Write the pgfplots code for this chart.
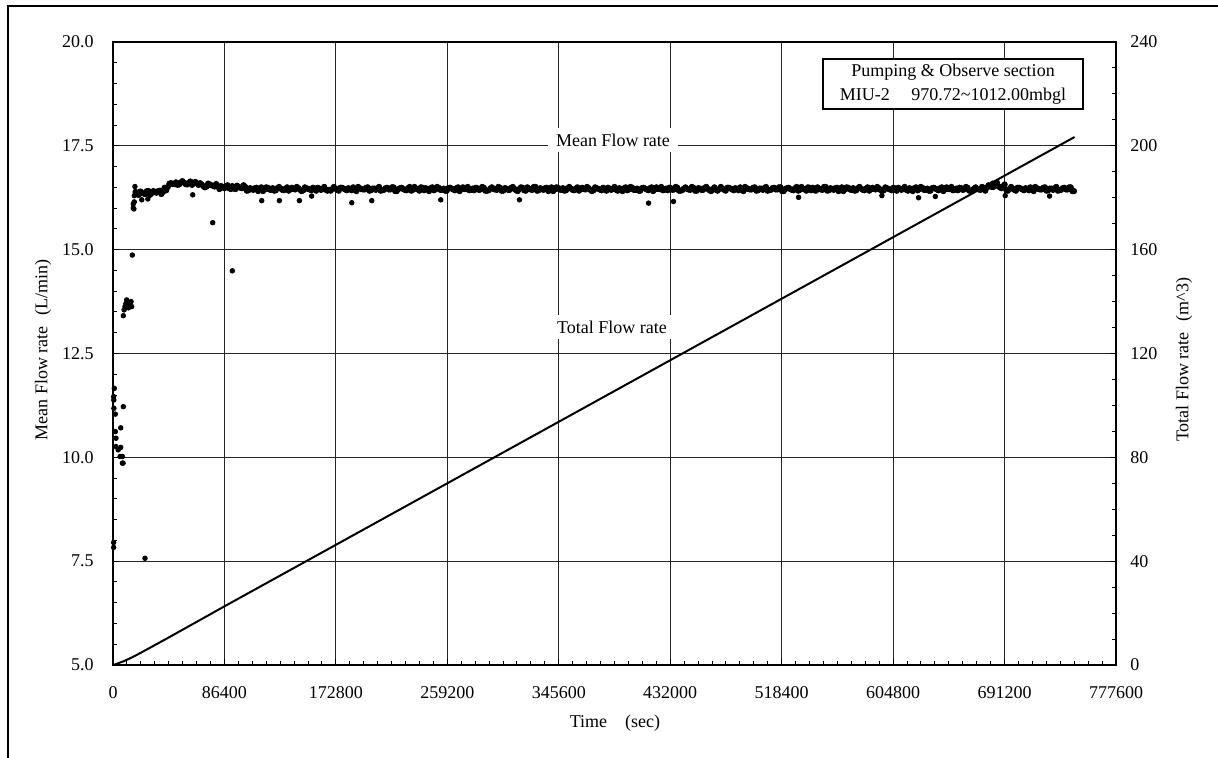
\documentclass[border=0pt]{standalone}
\usepackage{fontspec}
\setmainfont{Liberation Serif}
\usepackage{pgfplots}
\pgfplotsset{compat=1.18}
\begin{document}
\fontsize{9}{11}\selectfont
\begin{tikzpicture}
\path[use as bounding box] (-56.5pt,-46.5pt) rectangle (552.5pt,332.5pt);
\begin{axis}[
  scale only axis, width=501.5pt, height=311.5pt,
  xmin=0, xmax=777600, ymin=5, ymax=20,
  scaled x ticks=false, scaled y ticks=false,
  xtick={0,86400,172800,259200,345600,432000,518400,604800,691200,777600},
  xticklabels={0,86400,172800,259200,345600,432000,518400,604800,691200,777600},
  ytick={5,7.5,10,12.5,15,17.5,20},
  yticklabels={5.0,7.5,10.0,12.5,15.0,17.5,20.0},
  minor x tick num=7, minor y tick num=4,
  xtick pos=left, ytick pos=left, tick align=inside,
  major tick length=3pt, minor tick length=2.2pt,
  tick style={black, line width=0.5pt},
  grid=major, major grid style={black!85, line width=0.45pt},
  axis line style={line width=0.9pt},
  xticklabel style={yshift=-7.5pt},
  yticklabel style={xshift=-6.5pt},
  clip=false,
]
\addplot[only marks, mark=*, mark size=1.15pt, black] coordinates {
(500,11.46) (600,11.38) (700,11.18) (1000,11.66) (1800,11.04) (1800,10.62) (2300,10.46) (2300,10.26) (4000,10.18) (6000,10.24) (5500,10.02) (6000,10.71) (7300,10.02) (7300,9.86) (7800,9.86) (8000,11.22) (500,7.95) (500,7.83) (24800,7.57)
(8000,13.41) (8600,13.55) (9300,13.63) (10000,13.70) (10600,13.79) (11500,13.70) (12000,13.60) (13000,13.71) (14000,13.75) (14500,13.63) (15000,14.87) (15700,16.00) (15700,16.10) (16200,15.98) (16500,16.15) (17000,16.52) (16500,16.30)
(22300,16.20) (27000,16.22) (61800,16.32) (77300,15.65) (92500,14.49) (115300,16.18) (129000,16.18) (144500,16.18)
(154000,16.29) (185100,16.13) (200600,16.18) (254100,16.20) (315100,16.20) (415200,16.12) (434500,16.16)
(531500,16.26) (596100,16.30) (624500,16.25) (637500,16.28) (691700,16.30) (726100,16.29) (682000,16.60) (685500,16.62)
};
\addplot[only marks, mark=*, mark size=1.35pt, black] coordinates {
(17500,16.39) (20000,16.32) (22500,16.37) (25000,16.34) (27500,16.41) (30000,16.36) (32500,16.39) (35000,16.41) (37500,16.34) (40000,16.49)
(42500,16.51) (45000,16.60) (47500,16.58) (50000,16.56) (52500,16.62) (55000,16.61) (57500,16.57) (60000,16.64) (62500,16.59) (65000,16.60)
(67500,16.60) (70000,16.53) (72500,16.52) (75000,16.57) (77500,16.54) (80000,16.58) (82500,16.46) (85000,16.51) (87500,16.50) (90000,16.48)
(92500,16.53) (95000,16.46) (97500,16.51) (100000,16.48)
(102500,16.51) (105000,16.43) (107500,16.46) (110000,16.48) (112500,16.41) (115000,16.50) (117500,16.45) (120000,16.49) (122500,16.44) (125000,16.42)
(127500,16.48) (130000,16.47) (132500,16.43) (135000,16.50) (137500,16.45) (140000,16.46) (142500,16.51) (145000,16.44) (147500,16.43) (150000,16.48)
(152500,16.45) (155000,16.49) (157500,16.42) (160000,16.47) (162500,16.46) (165000,16.44)
(167500,16.44) (170000,16.46) (172500,16.47) (175000,16.42) (177500,16.49) (180000,16.45) (182500,16.48) (185000,16.43) (187500,16.44) (190000,16.51)
(192500,16.46) (195000,16.45) (197500,16.50) (200000,16.43) (202500,16.47) (205000,16.48) (207500,16.42) (210000,16.44) (212500,16.49) (215000,16.45)
(217500,16.50) (220000,16.41) (222500,16.48) (225000,16.46) (227500,16.43) (230000,16.51) (232500,16.44) (235000,16.47) (237500,16.42) (240000,16.49)
(242500,16.48) (245000,16.41) (247500,16.50) (250000,16.45) (252500,16.49) (255000,16.44) (257500,16.42) (260000,16.48) (262500,16.47) (265000,16.43)
(267500,16.50) (270000,16.45) (272500,16.46) (275000,16.51) (277500,16.44) (280000,16.43) (282500,16.48) (285000,16.45) (287500,16.49) (290000,16.42)
(292500,16.47) (295000,16.46) (297500,16.44) (300000,16.49) (302500,16.42) (305000,16.47) (307500,16.44) (310000,16.51) (312500,16.43) (315000,16.46)
(317500,16.49) (320000,16.42) (322500,16.47) (325000,16.44) (327500,16.51) (330000,16.43) (332500,16.46) (335000,16.48) (337500,16.41) (340000,16.50)
(342500,16.45) (345000,16.49) (347500,16.44) (350000,16.42) (352500,16.48) (355000,16.47) (357500,16.43) (360000,16.50) (362500,16.45) (365000,16.46)
(367500,16.51) (370000,16.44) (372500,16.43) (375000,16.48) (377500,16.45) (380000,16.49) (382500,16.42) (385000,16.47) (387500,16.46) (390000,16.44)
(392500,16.48) (395000,16.41) (397500,16.50) (400000,16.45) (402500,16.49) (405000,16.44) (407500,16.42) (410000,16.48) (412500,16.47) (415000,16.43)
(417500,16.50) (420000,16.45) (422500,16.46) (425000,16.51) (427500,16.44) (430000,16.43) (432500,16.48) (435000,16.45) (437500,16.49) (440000,16.42)
(442500,16.47) (445000,16.46) (447500,16.44) (450000,16.49) (452500,16.42) (455000,16.47) (457500,16.44) (460000,16.51) (462500,16.43) (465000,16.46)
(467500,16.44) (470000,16.46) (472500,16.47) (475000,16.42) (477500,16.49) (480000,16.45) (482500,16.48) (485000,16.43) (487500,16.44) (490000,16.51)
(492500,16.46) (495000,16.45) (497500,16.50) (500000,16.43) (502500,16.47) (505000,16.48) (507500,16.42) (510000,16.44) (512500,16.49) (515000,16.45)
(517500,16.50) (520000,16.41) (522500,16.48) (525000,16.46) (527500,16.43) (530000,16.51) (532500,16.44) (535000,16.47) (537500,16.42) (540000,16.49)
(542500,16.49) (545000,16.42) (547500,16.47) (550000,16.44) (552500,16.51) (555000,16.43) (557500,16.46) (560000,16.48) (562500,16.41) (565000,16.50)
(567500,16.45) (570000,16.49) (572500,16.44) (575000,16.42) (577500,16.48) (580000,16.47) (582500,16.43) (585000,16.50) (587500,16.45) (590000,16.46)
(592500,16.51) (595000,16.44) (597500,16.43) (600000,16.48) (602500,16.45) (605000,16.49) (607500,16.42) (610000,16.47) (612500,16.46) (615000,16.44)
(617500,16.48) (620000,16.41) (622500,16.50) (625000,16.45) (627500,16.49) (630000,16.44) (632500,16.42) (635000,16.48) (637500,16.47) (640000,16.43)
(642500,16.50) (645000,16.45) (647500,16.46) (650000,16.51) (652500,16.44) (655000,16.43) (657500,16.48) (660000,16.45) (662500,16.49) (665000,16.42)
(667500,16.47) (670000,16.46) (672500,16.44) (675000,16.49) (677500,16.49) (680000,16.54) (682500,16.51) (685000,16.58) (687500,16.50) (690000,16.53)
(692500,16.44) (695000,16.46) (697500,16.47) (700000,16.42) (702500,16.49) (705000,16.45) (707500,16.48) (710000,16.43) (712500,16.44) (715000,16.51)
(717500,16.46) (720000,16.45) (722500,16.50) (725000,16.43) (727500,16.47) (730000,16.48) (732500,16.42) (735000,16.44) (737500,16.49) (740000,16.45)
(742500,16.50) (745000,16.41)
};
\addplot[only marks, mark=*, mark size=1.35pt, black] coordinates {
(18750,16.33) (21250,16.40) (23750,16.35) (26250,16.41) (28750,16.32) (31250,16.41) (33750,16.37) (36250,16.42) (38750,16.39) (41250,16.43)
(43750,16.59) (46250,16.58) (48750,16.62) (51250,16.57) (53750,16.65) (56250,16.58) (58750,16.61) (61250,16.56) (63750,16.63) (66250,16.56)
(68750,16.57) (71250,16.50) (73750,16.59) (76250,16.55) (78750,16.52) (81250,16.53) (83750,16.53) (86250,16.48) (88750,16.55) (91250,16.46)
(93750,16.47) (96250,16.54) (98750,16.49) (101250,16.55)
(103750,16.42) (106250,16.48) (108750,16.44) (111250,16.49) (113750,16.46) (116250,16.41) (118750,16.50) (121250,16.45) (123750,16.48) (126250,16.43)
(128750,16.51) (131250,16.44) (133750,16.47) (136250,16.42) (138750,16.49) (141250,16.45) (143750,16.48) (146250,16.41) (148750,16.50) (151250,16.46)
(153750,16.43) (156250,16.47) (158750,16.49) (161250,16.44) (163750,16.51) (166250,16.42)
(168750,16.42) (171250,16.51) (173750,16.44) (176250,16.49) (178750,16.47) (181250,16.43) (183750,16.46) (186250,16.50) (188750,16.41) (191250,16.48)
(193750,16.45) (196250,16.49) (198750,16.42) (201250,16.47) (203750,16.44) (206250,16.51) (208750,16.43) (211250,16.48) (213750,16.45) (216250,16.50)
(218750,16.41) (221250,16.46) (223750,16.49) (226250,16.44) (228750,16.48) (231250,16.42) (233750,16.51) (236250,16.45) (238750,16.50) (241250,16.43)
(243750,16.45) (246250,16.48) (248750,16.43) (251250,16.51) (253750,16.44) (256250,16.47) (258750,16.42) (261250,16.49) (263750,16.45) (266250,16.48)
(268750,16.41) (271250,16.50) (273750,16.46) (276250,16.43) (278750,16.47) (281250,16.49) (283750,16.44) (286250,16.51) (288750,16.42) (291250,16.43)
(293750,16.50) (296250,16.45) (298750,16.51) (301250,16.42) (303750,16.48) (306250,16.44) (308750,16.49) (311250,16.46) (313750,16.41) (316250,16.50)
(318750,16.43) (321250,16.50) (323750,16.45) (326250,16.51) (328750,16.42) (331250,16.48) (333750,16.44) (336250,16.49) (338750,16.46) (341250,16.41)
(343750,16.50) (346250,16.45) (348750,16.48) (351250,16.43) (353750,16.51) (356250,16.44) (358750,16.47) (361250,16.42) (363750,16.49) (366250,16.45)
(368750,16.48) (371250,16.41) (373750,16.50) (376250,16.46) (378750,16.43) (381250,16.47) (383750,16.49) (386250,16.44) (388750,16.51) (391250,16.42)
(393750,16.45) (396250,16.48) (398750,16.43) (401250,16.51) (403750,16.44) (406250,16.47) (408750,16.42) (411250,16.49) (413750,16.45) (416250,16.48)
(418750,16.41) (421250,16.50) (423750,16.46) (426250,16.43) (428750,16.47) (431250,16.49) (433750,16.44) (436250,16.51) (438750,16.42) (441250,16.43)
(443750,16.50) (446250,16.45) (448750,16.51) (451250,16.42) (453750,16.48) (456250,16.44) (458750,16.49) (461250,16.46) (463750,16.41) (466250,16.50)
(468750,16.42) (471250,16.51) (473750,16.44) (476250,16.49) (478750,16.47) (481250,16.43) (483750,16.46) (486250,16.50) (488750,16.41) (491250,16.48)
(493750,16.45) (496250,16.49) (498750,16.42) (501250,16.47) (503750,16.44) (506250,16.51) (508750,16.43) (511250,16.48) (513750,16.45) (516250,16.50)
(518750,16.41) (521250,16.46) (523750,16.49) (526250,16.44) (528750,16.48) (531250,16.42) (533750,16.51) (536250,16.45) (538750,16.50) (541250,16.43)
(543750,16.43) (546250,16.50) (548750,16.45) (551250,16.51) (553750,16.42) (556250,16.48) (558750,16.44) (561250,16.49) (563750,16.46) (566250,16.41)
(568750,16.50) (571250,16.45) (573750,16.48) (576250,16.43) (578750,16.51) (581250,16.44) (583750,16.47) (586250,16.42) (588750,16.49) (591250,16.45)
(593750,16.48) (596250,16.41) (598750,16.50) (601250,16.46) (603750,16.43) (606250,16.47) (608750,16.49) (611250,16.44) (613750,16.51) (616250,16.42)
(618750,16.45) (621250,16.48) (623750,16.43) (626250,16.51) (628750,16.44) (631250,16.47) (633750,16.42) (636250,16.49) (638750,16.45) (641250,16.48)
(643750,16.41) (646250,16.50) (648750,16.46) (651250,16.43) (653750,16.47) (656250,16.49) (658750,16.44) (661250,16.51) (663750,16.42) (666250,16.43)
(668750,16.50) (671250,16.45) (673750,16.51) (676250,16.42) (678750,16.55) (681250,16.51) (683750,16.56) (686250,16.53) (688750,16.48) (691250,16.57)
(693750,16.42) (696250,16.51) (698750,16.44) (701250,16.49) (703750,16.47) (706250,16.43) (708750,16.46) (711250,16.50) (713750,16.41) (716250,16.48)
(718750,16.45) (721250,16.49) (723750,16.42) (726250,16.47) (728750,16.44) (731250,16.51) (733750,16.43) (736250,16.48) (738750,16.45) (741250,16.50)
(743750,16.41)
};
\end{axis}
\begin{axis}[
  scale only axis, width=501.5pt, height=311.5pt,
  xmin=0, xmax=777600, ymin=0, ymax=240,
  scaled x ticks=false, scaled y ticks=false,
  axis x line=none, axis y line*=right,
  ytick={0,40,80,120,160,200,240},
  yticklabels={0,40,80,120,160,200,240},
  minor y tick num=3, tick align=inside,
  major tick length=3pt, minor tick length=2.2pt,
  tick style={black, line width=0.5pt},
  axis line style={line width=0.9pt},
  yticklabel style={xshift=4pt},
]
\addplot[black, line width=1pt] coordinates {
(0,0) (2000,0.3) (5000,0.85) (8000,1.4) (10000,1.85) (12000,2.3) (15000,3.0) (17500,3.65) (20000,4.3) (30000,7.0) (43200,10.6)
(86400,22.6) (172800,46.3) (259200,70.0) (345600,93.7) (432000,117.4) (518400,141.1) (604800,164.8) (691200,188.5) (745500,203.4)
};
\end{axis}
\node at (251pt,-29pt) {Time\hspace{1em}(sec)};
\node[rotate=90] at (-35pt,157.5pt) {Mean Flow rate\hspace{0.6em}(L/min)};
\node[rotate=90] at (535.5pt,152.5pt) {Total Flow rate\hspace{0.6em}(m\textasciicircum3)};
\node[draw=black, line width=0.6pt, fill=white, minimum width=130pt, minimum height=25pt, align=center, inner sep=1pt] at (420pt,290.5pt)
  {Pumping \& Observe section\\[1pt] MIU-2\hspace{1.2em}970.72\textasciitilde1012.00mbgl};
\node[fill=white, inner xsep=4pt, inner ysep=3pt] at (250pt,262.5pt) {Mean Flow rate};
\node[fill=white, inner xsep=4pt, inner ysep=3pt] at (249.5pt,169pt) {Total Flow rate};
\draw[black, line width=0.9pt] (-52.5pt,-60pt) -- (-52.5pt,329.5pt) -- (570pt,329.5pt);
\end{tikzpicture}
\end{document}
